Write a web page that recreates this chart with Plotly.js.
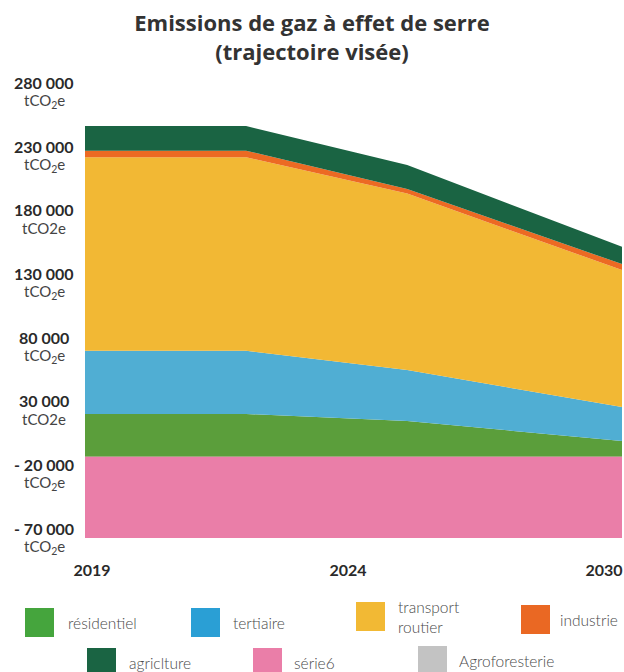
<!DOCTYPE html>
<html>
<head>
<meta charset="utf-8">
<script src="https://cdn.plot.ly/plotly-3.0.1.min.js"></script>
<style>html,body{margin:0;padding:0;background:#fff;}#chart{width:624px;height:672px;}</style>
</head>
<body>
<div id="chart"></div>
<script>
// ---- data ----
const years = [2019, 2022.3, 2025.6, 2030];
const residentiel = [33500, 33500, 28000, 12300];
const tertiaire = [49700, 49700, 40000, 26700];
const transport = [151800, 151800, 138600, 107500];
const industrie = [5200, 5200, 3500, 4700];
const agriculture = [19400, 19400, 18800, 13600];
const serie6 = [-63800, -63800, -63800, -63800];
const agroforesterie = [0, 0, 0, 0];

const seriesNames = ['résidentiel', 'tertiaire', 'transport<br>routier', 'industrie', 'agriclture', 'série6', 'Agroforesterie'];
const areaColors = ['#5b9e3b', '#50aed3', '#f2b834', '#ec6a23', '#1a6443', '#ea7ea8', '#c3c3c3'];
const legendColors = ['#45a53d', '#2a9fd5', '#f2b934', '#ea6823', '#1a6443', '#ea7ea8', '#c3c3c3'];

const yTickVals = [280000, 230000, 180000, 130000, 80000, 30000, -20000, -70000];
const yTickNums = ['280 000', '230 000', '180 000', '130 000', '80 000', '30 000', '- 20 000', '- 70 000'];
const yTickUnits = ['tCO<sub>2</sub>e', 'tCO<sub>2</sub>e', 'tCO2e', 'tCO<sub>2</sub>e', 'tCO<sub>2</sub>e', 'tCO2e', 'tCO<sub>2</sub>e', 'tCO<sub>2</sub>e'];
const xTickText = ['2019', '2024', '2030'];

// ---- layout geometry ----
const W = 624, H = 672;
const M = {l: 85, r: 2, t: 87, b: 113};
const PW = W - M.l - M.r, PH = H - M.t - M.b;
const px2x = p => (p - M.l) / PW;
const px2y = p => (H - M.b - p) / PH;
const xRange = [2019, 2030];
const xAt = p => xRange[0] + (p - M.l) / PW * (xRange[1] - xRange[0]);

const FONT = 'Lato, "Open Sans", sans-serif';

const stackVals = [residentiel, tertiaire, transport, industrie, agriculture, null, agroforesterie];
const traces = [];
[0, 1, 2, 3, 4, 6].forEach(i => {
  traces.push({
    x: years, y: stackVals[i], type: 'scatter', mode: 'lines',
    stackgroup: 'pos', name: seriesNames[i].replace('<br>', ' '),
    line: {width: 0, color: areaColors[i]}, fillcolor: areaColors[i],
    showlegend: false, hoverinfo: 'skip'
  });
});
traces.push({
  x: years, y: serie6, type: 'scatter', mode: 'lines', fill: 'tozeroy',
  name: seriesNames[5], line: {width: 0, color: areaColors[5]}, fillcolor: areaColors[5],
  showlegend: false, hoverinfo: 'skip'
});

const annotations = [];
yTickVals.forEach((v, i) => {
  annotations.push({
    xref: 'paper', yref: 'y', x: px2x(44), y: v, xanchor: 'center', yanchor: 'middle', yshift: 17.5,
    showarrow: false, align: 'center', text: '<b>' + yTickNums[i] + '</b>',
    font: {family: FONT, size: 16, color: '#2a2a2a'}
  });
  annotations.push({
    xref: 'paper', yref: 'y', x: px2x(44), y: v, xanchor: 'center', yanchor: 'middle', yshift: -1,
    showarrow: false, align: 'center', text: yTickUnits[i],
    font: {family: FONT, size: 15, color: '#444'}
  });
});

// legend (layout positions in px)
const legendPos = [[25, 608], [191, 608], [356, 602], [521, 605], [87, 648], [253, 648], [418, 646]];
const legendTextX = [66, 231, 396, 558, 127, 292, 457];
const shapes = [];
legendPos.forEach((p, i) => {
  shapes.push({type: 'rect', xref: 'paper', yref: 'paper', x0: px2x(p[0]), x1: px2x(p[0] + 29),
    y0: px2y(p[1]), y1: px2y(p[1] + 29), fillcolor: legendColors[i], line: {width: 0}, layer: 'above'});
  annotations.push({xref: 'paper', yref: 'paper', x: px2x(legendTextX[i]), y: px2y(p[1] + 15),
    xanchor: 'left', yanchor: 'middle', showarrow: false, align: 'left',
    text: seriesNames[i], font: {family: FONT, size: 15.5, color: '#4a4a4a', weight: 300}});
});

const layout = {
  width: W, height: H, margin: M, paper_bgcolor: '#fff', plot_bgcolor: '#fff',
  showlegend: false,
  title: {text: 'Emissions de gaz à effet de serre<br>(trajectoire visée)', font: {family: '"Open Sans", Lato, sans-serif', size: 22, color: '#333', weight: 'bold'},
    x: 0.5, xref: 'container', xanchor: 'center', y: 1 - 31 / H, yref: 'container', yanchor: 'top'},
  xaxis: {range: xRange, showgrid: false, zeroline: false, showline: false, ticks: '',
    tickvals: [xAt(92), xAt(348), xAt(604)], ticktext: xTickText,
    tickfont: {family: FONT, size: 16, color: '#2a2a2a', weight: 'bold'}, fixedrange: true},
  yaxis: {range: [-80300, 290200], showgrid: false, zeroline: false, showline: false, ticks: '', showticklabels: false, fixedrange: true},
  shapes: shapes, annotations: annotations
};
Plotly.newPlot('chart', traces, layout, {staticPlot: true, displayModeBar: false});
</script>
</body>
</html>
